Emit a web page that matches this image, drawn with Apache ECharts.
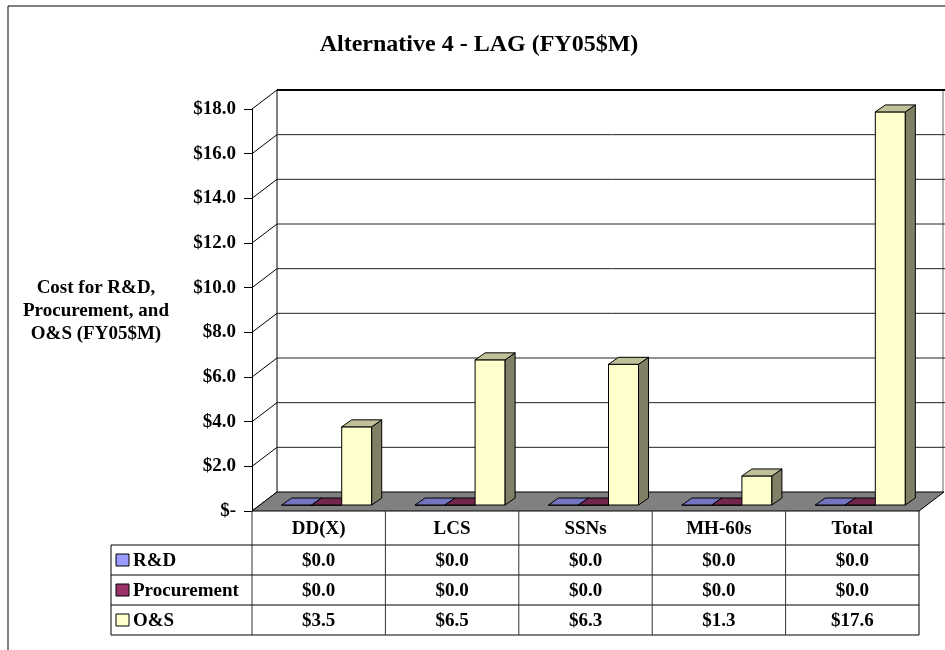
<!DOCTYPE html>
<html>
<head>
<meta charset="utf-8">
<script src="https://cdn.jsdelivr.net/npm/echarts@6/dist/echarts.min.js"></script>
<style>
html,body{margin:0;padding:0;background:#fff;}
#chart{width:945px;height:650px;}
</style>
</head>
<body>
<div id="chart"></div>
<script>
// ---- data ----
const categories = ['DD(X)', 'LCS', 'SSNs', 'MH-60s', 'Total'];
const seriesNames = ['R&D', 'Procurement', 'O&S'];
const rdValues = [0.0, 0.0, 0.0, 0.0, 0.0];
const procValues = [0.0, 0.0, 0.0, 0.0, 0.0];
const osValues = [3.5, 6.5, 6.3, 1.3, 17.6];
const yTicks = [0, 2, 4, 6, 8, 10, 12, 14, 16, 18];
const titleText = 'Alternative 4 - LAG (FY05$M)';
const yAxisTitle = 'Cost for R&D,\nProcurement, and\nO&S (FY05$M)';

// ---- styles ----
const FONT = '"Liberation Serif", "Times New Roman", serif';
const colors = [
  {front: '#9999FF', top: '#7373C0', side: '#4D4D80'},
  {front: '#993366', top: '#73264D', side: '#4D1A33'},
  {front: '#FFFFCC', top: '#C0C099', side: '#808066'}
];
const DX = 25, DY = -19;      // depth of floor/walls
const OX = 8, OY = -6;        // bar front offset in depth
const BX = 10, BY = -7;       // bar depth
const BAR_FRAC = 0.225;
const HEADER_H = 34, ROW_H = 30;
const TABLE_LEFT = 111;

const allValues = [rdValues, procValues, osValues];
const fmtVal = v => '$' + v.toFixed(1);

function wallRender(params, api) {
  const gx = params.coordSys.x, gw = params.coordSys.width;
  const v = api.value(1);
  const y = api.coord([0, v])[1];
  const maxV = yTicks[yTicks.length - 1];
  const children = [];
  children.push({type: 'line', shape: {x1: gx, y1: y, x2: gx + DX, y2: y + DY},
    style: {stroke: '#000', lineWidth: 1}});
  if (v !== 0) {
    children.push({type: 'line', shape: {x1: gx + DX, y1: y + DY, x2: gx + gw + DX + 5, y2: y + DY},
      style: {stroke: v === maxV ? '#000' : '#222', lineWidth: v === maxV ? 2 : 1}});
  }
  if (params.dataIndex === 0) {
    const yTop = api.coord([0, maxV])[1];
    children.push({type: 'line', shape: {x1: gx + DX, y1: yTop + DY, x2: gx + DX, y2: y + DY},
      style: {stroke: '#000', lineWidth: 1}});
    children.push({type: 'line', shape: {x1: gx + gw + DX - 1, y1: yTop + DY, x2: gx + gw + DX - 1, y2: y + DY},
      style: {stroke: '#666', lineWidth: 1}});
    // floor
    children.push({type: 'polygon', shape: {points: [[gx, y], [gx + gw, y], [gx + gw + DX, y + DY], [gx + DX, y + DY]]},
      style: {fill: '#808080', stroke: '#000', lineWidth: 1}});
  }
  return {type: 'group', children};
}

function barRender(sIdx) {
  return function (params, api) {
    const ci = api.value(0), v = api.value(1);
    const base = api.coord([ci, 0]);
    const top = api.coord([ci, v]);
    const band = api.size([1, 0])[0];
    const bw = band * BAR_FRAC;
    const x0 = base[0] - 1.5 * bw + sIdx * bw + OX;
    const x1 = x0 + bw;
    const yb = base[1] + OY, yt = top[1] + OY;
    const c = colors[sIdx];
    const st = f => ({fill: f, stroke: '#000', lineWidth: 1, lineJoin: 'round'});
    return {type: 'group', children: [
      {type: 'polygon', shape: {points: [[x0, yb], [x1, yb], [x1, yt], [x0, yt]]}, style: st(c.front)},
      {type: 'polygon', shape: {points: [[x1, yb], [x1 + BX, yb + BY], [x1 + BX, yt + BY], [x1, yt]]}, style: st(c.side)},
      {type: 'polygon', shape: {points: [[x0, yt], [x1, yt], [x1 + BX, yt + BY], [x0 + BX, yt + BY]]}, style: st(c.top)}
    ]};
  };
}

function tableRender(params, api) {
  const ci = api.value(0);
  const base = api.coord([ci, 0]);
  const band = api.size([1, 0])[0];
  const cx = base[0];
  const left = cx - band / 2, right = cx + band / 2;
  const y0 = base[1];
  const yEnd = y0 + HEADER_H + ROW_H * 3;
  const textStyle = (t, y) => ({type: 'text', style: {text: t, x: cx, y: y, align: 'center', verticalAlign: 'middle',
    font: 'bold 19px ' + FONT, fill: '#000'}});
  const children = [];
  children.push({type: 'line', shape: {x1: left, y1: y0, x2: left, y2: yEnd}, style: {stroke: '#333', lineWidth: 1}});
  if (ci === categories.length - 1) {
    children.push({type: 'line', shape: {x1: right, y1: y0, x2: right, y2: yEnd}, style: {stroke: '#000', lineWidth: 1}});
  }
  if (ci === 0) {
    const gx2 = params.coordSys.x + params.coordSys.width;
    for (let r = 0; r <= 3; r++) {
      const yy = y0 + HEADER_H + r * ROW_H;
      children.push({type: 'line', shape: {x1: TABLE_LEFT, y1: yy, x2: gx2, y2: yy}, style: {stroke: '#000', lineWidth: 1}});
    }
    children.push({type: 'line', shape: {x1: TABLE_LEFT, y1: y0 + HEADER_H, x2: TABLE_LEFT, y2: yEnd}, style: {stroke: '#000', lineWidth: 1}});
    // legend keys + row labels
    for (let s = 0; s < seriesNames.length; s++) {
      const yc = y0 + HEADER_H + s * ROW_H + ROW_H / 2;
      children.push({type: 'rect', shape: {x: TABLE_LEFT + 5, y: yc - 6, width: 13, height: 12},
        style: {fill: colors[s].front, stroke: '#000', lineWidth: 1}});
      children.push({type: 'text', style: {text: seriesNames[s], x: TABLE_LEFT + 22, y: yc + 1, align: 'left', verticalAlign: 'middle',
        font: 'bold 19px ' + FONT, fill: '#000'}});
    }
  }
  children.push(textStyle(categories[ci], y0 + HEADER_H / 2 + 1));
  for (let s = 0; s < 3; s++) {
    children.push(textStyle(fmtVal(allValues[s][ci]), y0 + HEADER_H + s * ROW_H + ROW_H / 2 + 1));
  }
  return {type: 'group', children};
}

const chart = echarts.init(document.getElementById('chart'), null, {renderer: 'canvas'});
const option = {
  backgroundColor: '#fff',
  animation: false,
  title: {
    text: titleText, left: 474, top: 28, textAlign: 'center',
    textStyle: {fontFamily: FONT, fontWeight: 'bold', fontSize: 24, color: '#000'}
  },
  grid: {left: 252, right: 26, top: 109, bottom: 139},
  xAxis: {
    type: 'category', data: categories,
    axisLine: {show: false}, axisTick: {show: false}, axisLabel: {show: false}, splitLine: {show: false}
  },
  yAxis: {
    type: 'value', min: 0, max: 18, interval: 2,
    axisLine: {show: true, lineStyle: {color: '#000', width: 1}},
    axisTick: {show: true, length: 8, lineStyle: {color: '#000'}},
    splitLine: {show: false},
    axisLabel: {
      margin: 16, color: '#000', fontFamily: FONT, fontWeight: 'bold', fontSize: 19,
      formatter: v => v === 0 ? '$-' : '$' + v.toFixed(1)
    }
  },
  graphic: [
    {type: 'rect', shape: {x: 8, y: 6, width: 960, height: 700}, style: {fill: 'none', stroke: '#000', lineWidth: 1}, z: 0, silent: true},
    {type: 'text', x: 96, y: 311, style: {text: yAxisTitle, x: 0, y: 0, align: 'center', verticalAlign: 'middle', font: 'bold 19px ' + FONT, fill: '#000', lineHeight: 23}, silent: true}
  ],
  series: [
    {type: 'custom', name: 'wall', renderItem: wallRender, data: yTicks.map(v => [0, v]), z: 1, silent: true},
    {type: 'custom', name: seriesNames[0], renderItem: barRender(0), data: rdValues.map((v, i) => [i, v]), z: 3},
    {type: 'custom', name: seriesNames[1], renderItem: barRender(1), data: procValues.map((v, i) => [i, v]), z: 3},
    {type: 'custom', name: seriesNames[2], renderItem: barRender(2), data: osValues.map((v, i) => [i, v]), z: 3},
    {type: 'custom', name: 'table', renderItem: tableRender, data: categories.map((c, i) => [i, 0]), z: 4, silent: true}
  ]
};
chart.setOption(option);
</script>
</body>
</html>
